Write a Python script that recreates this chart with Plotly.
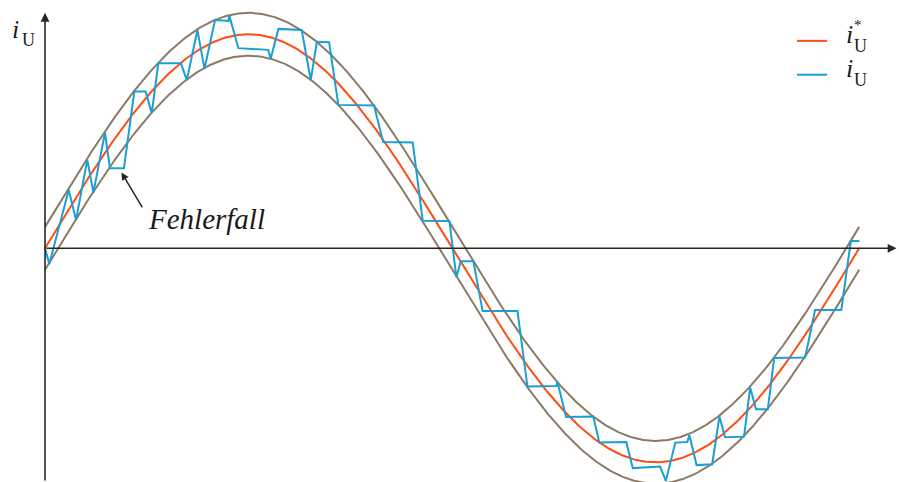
import numpy as np
import plotly.graph_objects as go

# Reference current i*_U (one period, angle in degrees) and tolerance band
AMPLITUDE = 1.0
BAND = 0.1
angle_ref = np.linspace(0, 360, 721)
i_ref = AMPLITUDE * np.sin(np.radians(angle_ref))
i_upper = i_ref + BAND
i_lower = i_ref - BAND

# Measured phase current i_U (hysteresis-controlled, vertices: angle in deg, current in p.u.)
angle_meas = [0.0, 1.9, 10.5, 13.7, 18.7, 21.4, 26.5, 28.7, 34.9, 39.5, 44.5, 47.2, 50.1,
              60.1, 62.7, 67.4, 70.5, 75.2, 81.1, 81.5, 85.5, 98.7, 99.8, 103.2, 113.5,
              117.5, 120.2, 125.6, 129.7, 145.5, 149.5, 162.6, 167.0, 178.8, 181.9, 183.8,
              189.4, 193.5, 208.9, 213.3, 226.1, 226.6, 230.4, 242.4, 245.1, 257.0, 259.9,
              272.0, 274.5, 278.7, 284.0, 284.9, 288.1, 295.0, 298.2, 300.7, 309.1, 311.8,
              314.4, 319.6, 322.4, 336.1, 340.5, 352.1, 356.3, 360.1]
i_meas = [0.0, -0.073, 0.272, 0.132, 0.413, 0.260, 0.540, 0.374, 0.374, 0.732, 0.732, 0.631,
          0.864, 0.864, 0.786, 1.020, 0.838, 1.067, 1.062, 1.087, 0.935, 0.927, 0.885, 1.025,
          1.020, 0.786, 0.965, 0.963, 0.670, 0.667, 0.497, 0.494, 0.129, 0.128, -0.136,
          -0.061, -0.061, -0.293, -0.293, -0.646, -0.643, -0.625, -0.788, -0.786, -0.907,
          -0.905, -1.027, -1.020, -1.087, -0.908, -0.905, -0.872, -1.013, -1.009, -0.786,
          -0.883, -0.880, -0.650, -0.752, -0.752, -0.513, -0.510, -0.288, -0.288, 0.034, 0.034]

ORANGE = "#ff4d14"
BLUE = "#1a9fd4"
BROWN = "#8c7a66"
AXIS = "#262626"
TEXT = "#1a1a1a"
SERIF = "'Liberation Serif', 'DejaVu Serif', serif"

X_RANGE = [-19.9, 377.6]
Y_RANGE = [-1.092, 1.160]

fig = go.Figure()
for band in (i_upper, i_lower):
    fig.add_trace(go.Scatter(x=angle_ref, y=band, mode="lines",
                             line=dict(color=BROWN, width=2), hoverinfo="skip",
                             showlegend=False))
fig.add_trace(go.Scatter(x=angle_ref, y=i_ref, mode="lines",
                         line=dict(color=ORANGE, width=2), showlegend=False))
fig.add_trace(go.Scatter(x=angle_meas, y=i_meas, mode="lines",
                         line=dict(color=BLUE, width=2), showlegend=False))

annotations = []
# Coordinate axes with arrow heads
annotations.append(dict(x=376.5, y=0, ax=0, ay=0, xref="x", yref="y", axref="x", ayref="y",
                        text="", showarrow=True, arrowhead=2, arrowsize=1.1,
                        arrowwidth=1.6, arrowcolor=AXIS, standoff=0))
annotations.append(dict(x=0, y=1.10, ax=0, ay=Y_RANGE[0], xref="x", yref="y", axref="x",
                        ayref="y", text="", showarrow=True, arrowhead=2, arrowsize=1.1,
                        arrowwidth=1.6, arrowcolor=AXIS, standoff=0))

# Y axis label i_U
annotations.append(dict(x=-13.2, y=1.02, xref="x", yref="y", text="<i>i</i>",
                        showarrow=False, font=dict(family=SERIF, size=26, color=TEXT)))
annotations.append(dict(x=-7.3, y=0.975, xref="x", yref="y", text="U",
                        showarrow=False, font=dict(family=SERIF, size=18, color=TEXT)))

# Fault annotation
annotations.append(dict(x=33.8, y=0.354, ax=43.4, ay=0.184, xref="x", yref="y",
                        axref="x", ayref="y", text="", showarrow=True, arrowhead=2,
                        arrowsize=1.0, arrowwidth=1.5, arrowcolor=AXIS, standoff=0))
annotations.append(dict(x=71.3, y=0.135, xref="x", yref="y", text="<i>Fehlerfall</i>",
                        showarrow=False, font=dict(family=SERIF, size=29, color=TEXT)))

# Legend (drawn manually)
legend_items = [(ORANGE, 0.969, True), (BLUE, 0.811, False)]
shapes = []
for color, yv, star in legend_items:
    shapes.append(dict(type="line", xref="x", yref="y", x0=332.5, x1=345.8, y0=yv, y1=yv,
                       line=dict(color=color, width=2)))
    annotations.append(dict(x=355.5, y=yv + 0.03, xref="x", yref="y", text="<i>i</i>",
                            showarrow=False, font=dict(family=SERIF, size=26, color=TEXT)))
    annotations.append(dict(x=360.5, y=yv - 0.025, xref="x", yref="y", text="U",
                            showarrow=False, font=dict(family=SERIF, size=18, color=TEXT)))
    if star:
        annotations.append(dict(x=359.5, y=yv + 0.075, xref="x", yref="y", text="*",
                                showarrow=False, font=dict(family=SERIF, size=15, color=TEXT)))

fig.update_layout(
    width=899, height=482,
    margin=dict(l=0, r=0, t=0, b=0),
    paper_bgcolor="white", plot_bgcolor="white",
    xaxis=dict(range=X_RANGE, visible=False, fixedrange=True),
    yaxis=dict(range=Y_RANGE, visible=False, fixedrange=True),
    annotations=annotations,
    shapes=shapes,
    showlegend=False,
)

fig.write_html("out.html")
